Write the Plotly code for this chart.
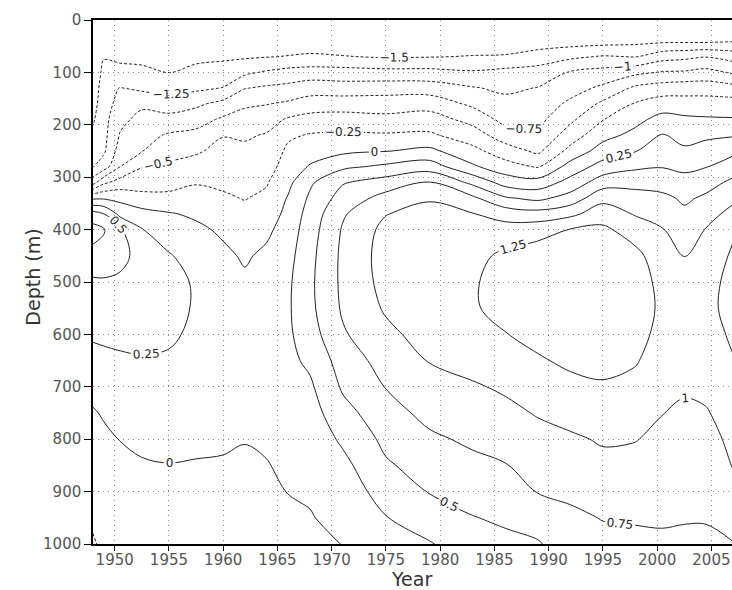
import numpy as np
import plotly.graph_objects as go

# Grid of the field (years along x, depth in m along y)
years = [1948, 1949, 1950.5, 1952.5, 1955, 1957.5, 1960, 1962, 1964, 1966, 1968, 1971,
         1975, 1979, 1983, 1986, 1989, 1992, 1995, 1998, 2000.5, 2002.5, 2004.5, 2007]
depths = [0, 40, 70, 100, 130, 160, 190, 220, 250, 280, 310, 340, 370, 400,
          450, 500, 550, 600, 650, 700, 750, 800, 850, 900, 950, 1000]

# One depth profile per year
profiles = [
    [-2.0, -1.9, -1.8, -1.72, -1.65, -1.6, -1.53, -1.45, -1.36, -1.27, -0.85, -0.04, 0.6, 0.84, 0.68, 0.46, 0.37, 0.28, 0.18, 0.07, -0.02, -0.08, -0.13, -0.17, -0.22, -0.27],
    [-1.9, -1.75, -1.52, -1.42, -1.37, -1.35, -1.33, -1.32, -1.29, -1.12, -0.55, -0.03, 0.5, 0.77, 0.66, 0.47, 0.38, 0.29, 0.2, 0.11, 0.02, -0.04, -0.09, -0.13, -0.17, -0.21],
    [-1.85, -1.7, -1.57, -1.4, -1.24, -1.17, -1.07, -0.98, -0.88, -0.75, -0.4, -0.07, 0.18, 0.54, 0.58, 0.45, 0.38, 0.3, 0.22, 0.14, 0.07, 0.005, -0.05, -0.09, -0.12, -0.15],
    [-1.8, -1.68, -1.57, -1.44, -1.3, -1.05, -0.92, -0.84, -0.76, -0.51, -0.36, -0.17, 0.09, 0.26, 0.4, 0.44, 0.4, 0.32, 0.23, 0.16, 0.1, 0.045, -0.02, -0.06, -0.1, -0.13],
    [-1.75, -1.66, -1.6, -1.51, -1.35, -1.12, -0.92, -0.72, -0.6, -0.45, -0.33, -0.19, 0.02, 0.12, 0.27, 0.34, 0.35, 0.3, 0.21, 0.15, 0.1, 0.05, -0.005, -0.04, -0.07, -0.1],
    [-1.72, -1.64, -1.56, -1.43, -1.3, -1.05, -0.85, -0.68, -0.53, -0.4, -0.27, -0.14, -0.04, 0.05, 0.15, 0.22, 0.22, 0.19, 0.15, 0.1, 0.065, 0.03, -0.01, -0.04, -0.07, -0.1],
    [-1.7, -1.62, -1.54, -1.4, -1.24, -0.92, -0.71, -0.51, -0.43, -0.35, -0.29, -0.22, -0.13, -0.04, 0.05, 0.1, 0.12, 0.12, 0.1, 0.07, 0.04, 0.015, -0.01, -0.04, -0.07, -0.1],
    [-1.72, -1.63, -1.53, -1.3, -1.01, -0.79, -0.65, -0.53, -0.45, -0.38, -0.31, -0.26, -0.19, -0.13, -0.03, 0.04, 0.08, 0.09, 0.08, 0.06, 0.035, 0.005, -0.02, -0.05, -0.08, -0.11],
    [-1.73, -1.63, -1.51, -1.22, -0.96, -0.76, -0.6, -0.48, -0.42, -0.36, -0.27, -0.2, -0.13, -0.05, 0.05, 0.12, 0.16, 0.17, 0.15, 0.12, 0.08, 0.03, -0.01, -0.04, -0.07, -0.1],
    [-1.73, -1.63, -1.49, -1.16, -0.93, -0.71, -0.47, -0.29, -0.2, -0.13, -0.06, 0.02, 0.07, 0.11, 0.17, 0.21, 0.22, 0.21, 0.19, 0.16, 0.12, 0.08, 0.04, 0.005, -0.04, -0.07],
    [-1.72, -1.62, -1.47, -1.13, -0.87, -0.63, -0.41, -0.23, -0.1, 0.02, 0.21, 0.29, 0.35, 0.39, 0.43, 0.45, 0.44, 0.39, 0.3, 0.21, 0.14, 0.09, 0.05, 0.02, -0.01, -0.04],
    [-1.75, -1.63, -1.49, -1.14, -0.89, -0.61, -0.4, -0.21, -0.05, 0.2, 0.48, 0.6, 0.72, 0.77, 0.8, 0.8, 0.78, 0.72, 0.61, 0.53, 0.42, 0.29, 0.18, 0.1, 0.05, 0.003],
    [-1.75, -1.63, -1.52, -1.17, -0.86, -0.62, -0.43, -0.22, -0.01, 0.3, 0.61, 0.84, 0.99, 1.07, 1.1, 1.08, 1.03, 0.94, 0.85, 0.76, 0.64, 0.56, 0.47, 0.36, 0.24, 0.15],
    [-1.73, -1.62, -1.51, -1.17, -0.87, -0.6, -0.39, -0.21, 0.06, 0.38, 0.76, 0.97, 1.1, 1.16, 1.2, 1.2, 1.16, 1.1, 1.01, 0.92, 0.83, 0.7, 0.6, 0.51, 0.39, 0.23],
    [-1.73, -1.62, -1.49, -1.22, -0.98, -0.8, -0.58, -0.38, -0.18, 0.04, 0.44, 0.8, 1.01, 1.1, 1.18, 1.22, 1.22, 1.18, 1.1, 0.97, 0.89, 0.8, 0.68, 0.6, 0.49, 0.4],
    [-1.75, -1.63, -1.48, -1.17, -1.05, -0.92, -0.83, -0.63, -0.38, -0.15, 0.15, 0.53, 0.9, 1.1, 1.3, 1.36, 1.34, 1.24, 1.15, 1.04, 0.93, 0.84, 0.74, 0.64, 0.54, 0.44],
    [-1.77, -1.65, -1.38, -1.15, -0.99, -0.9, -0.82, -0.71, -0.55, -0.27, 0.1, 0.44, 0.85, 1.15, 1.38, 1.45, 1.43, 1.33, 1.22, 1.11, 1.02, 0.91, 0.83, 0.76, 0.6, 0.48],
    [-1.75, -1.62, -1.3, -0.98, -0.85, -0.7, -0.55, -0.38, -0.17, 0.1, 0.34, 0.6, 0.94, 1.26, 1.44, 1.5, 1.48, 1.4, 1.3, 1.18, 1.07, 0.97, 0.88, 0.8, 0.7, 0.62],
    [-1.8, -1.6, -1.23, -0.91, -0.7, -0.45, -0.26, -0.08, 0.11, 0.35, 0.63, 0.93, 1.13, 1.3, 1.45, 1.52, 1.52, 1.45, 1.33, 1.22, 1.11, 1.02, 0.95, 0.85, 0.76, 0.68],
    [-1.85, -1.57, -1.26, -0.81, -0.45, -0.23, -0.07, 0.07, 0.24, 0.46, 0.66, 0.86, 0.98, 1.13, 1.32, 1.38, 1.38, 1.33, 1.27, 1.18, 1.09, 1.01, 0.92, 0.84, 0.77, 0.7],
    [-1.85, -1.55, -1.1, -0.73, -0.38, -0.13, 0.09, 0.27, 0.38, 0.49, 0.64, 0.81, 0.92, 1.01, 1.1, 1.17, 1.2, 1.18, 1.13, 1.07, 1.005, 0.94, 0.88, 0.82, 0.77, 0.72],
    [-1.85, -1.55, -1.06, -0.72, -0.35, -0.15, 0.05, 0.17, 0.29, 0.45, 0.58, 0.71, 0.8, 0.89, 0.99, 1.08, 1.13, 1.13, 1.09, 1.03, 0.96, 0.9, 0.84, 0.79, 0.76, 0.72],
    [-1.85, -1.55, -1.01, -0.67, -0.36, -0.14, 0.03, 0.2, 0.36, 0.49, 0.66, 0.79, 0.89, 1.01, 1.12, 1.18, 1.2, 1.17, 1.12, 1.06, 0.98, 0.91, 0.86, 0.81, 0.76, 0.72],
    [-1.85, -1.52, -1.1, -0.78, -0.41, -0.14, 0.02, 0.23, 0.44, 0.63, 0.8, 0.94, 1.09, 1.22, 1.28, 1.31, 1.31, 1.28, 1.24, 1.17, 1.11, 1.06, 1.01, 0.94, 0.85, 0.74],
]

x_ticks = [1950, 1955, 1960, 1965, 1970, 1975, 1980, 1985, 1990, 1995, 2000, 2005]
y_ticks = [0, 100, 200, 300, 400, 500, 600, 700, 800, 900, 1000]

z = np.array(profiles).T  # rows = depths, cols = years

label_font = dict(family="DejaVu Sans", size=12, color="#222")

fig = go.Figure()
fig.add_trace(go.Contour(
    x=years, y=depths, z=z,
    contours=dict(start=-1.5, end=-0.25, size=0.25, coloring="none",
                  showlabels=True, labelfont=label_font),
    line=dict(color="#222", width=1, dash="3px,2px", smoothing=1.0),
    showscale=False, hoverinfo="skip",
))
fig.add_trace(go.Contour(
    x=years, y=depths, z=z,
    contours=dict(start=0, end=1.25, size=0.25, coloring="none",
                  showlabels=True, labelfont=label_font),
    line=dict(color="#222", width=1, smoothing=1.0),
    showscale=False, hoverinfo="skip",
))

axis_font = dict(family="DejaVu Sans", size=15, color="#555")
title_font = dict(family="DejaVu Sans", size=19, color="#333")
fig.update_layout(
    width=732, height=590,
    margin=dict(l=93, r=0, t=20, b=46),
    paper_bgcolor="white", plot_bgcolor="white",
    showlegend=False,
    xaxis=dict(range=[1948, 2006.9], tickvals=x_ticks, ticks="outside", ticklen=5,
               ticklabelstandoff=-4,
               tickcolor="black", showline=True, linecolor="black", linewidth=1.5,
               mirror=True, showgrid=True, gridcolor="#888", griddash="1px,4px",
               gridwidth=1, zeroline=False, tickfont=axis_font),
    yaxis=dict(range=[1000, 0], tickvals=y_ticks, ticks="outside", ticklen=7,
               tickcolor="black", showline=True, linecolor="black", linewidth=1.5,
               mirror=False, showgrid=True, gridcolor="#888", griddash="1px,4px",
               gridwidth=1, zeroline=False, tickfont=axis_font),
    annotations=[
        dict(text="Year", xref="paper", yref="paper", x=0.499, y=-0.066,
             xanchor="center", yanchor="middle", showarrow=False, font=title_font),
        dict(text="Depth (m)", xref="paper", yref="paper", x=-0.094, y=0.51,
             xanchor="center", yanchor="middle", showarrow=False, textangle=-90,
             font=title_font),
    ],
)

fig.write_html("out.html")
